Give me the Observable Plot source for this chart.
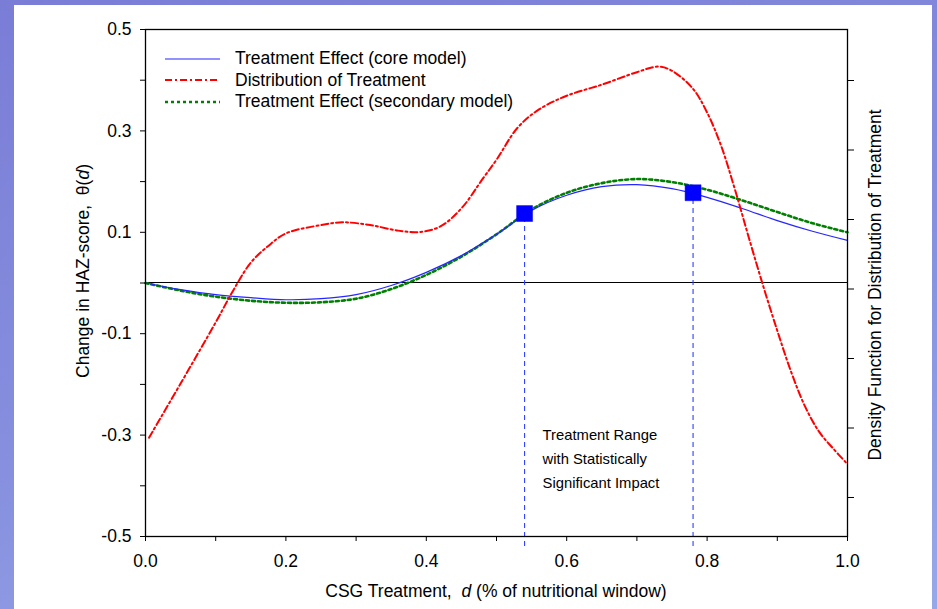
<!DOCTYPE html>
<html><head><meta charset="utf-8">
<script src="https://cdn.jsdelivr.net/npm/d3@7"></script>
<script src="https://cdn.jsdelivr.net/npm/@observablehq/plot@0.6"></script>
<style>
html,body{margin:0;padding:0;}
body{width:937px;height:609px;overflow:hidden;position:relative;background:linear-gradient(165deg,#7a7dd6 0%,#8690de 55%,#97a8e8 100%);font-family:"Liberation Sans",Arial,sans-serif;color:#000;}
#panel{position:absolute;left:14px;top:5px;width:918px;height:604px;background:#fff;}
.layer{position:absolute;left:0;top:0;}
.lbl{position:absolute;white-space:nowrap;font-size:17.5px;line-height:1;}
.rot{transform:translate(-50%,-50%) rotate(-90deg);}
#legend{position:absolute;left:163px;top:48px;font-size:17.5px;}
#legend .row{display:flex;align-items:center;height:21.5px;}
#legend svg{width:60px;height:10px;margin-right:12px;}
</style></head><body>
<div id="panel"></div>
<div id="plots"></div>
<div class="lbl rot" style="left:84px;top:271px;">Change in HAZ-score,&nbsp; θ(<i>d</i>)</div>
<div class="lbl rot" style="left:876px;top:285px;">Density Function for Distribution of Treatment</div>
<div class="lbl" style="left:496px;top:592px;transform:translate(-50%,-50%);">CSG Treatment,&nbsp; <i>d</i> (% of nutritional window)</div>
<div id="legend"></div>
<script>
// ---- data ----
const dValues = [0,0.05,0.1,0.15,0.2,0.25,0.3,0.35,0.4,0.45,0.5,0.55,0.6,0.65,0.7,0.75,0.8,0.85,0.9,0.95,1.0];
const coreEffect = [0,-0.013,-0.023,-0.029,-0.033,-0.031,-0.023,-0.005,0.021,0.054,0.096,0.143,0.173,0.19,0.194,0.186,0.169,0.147,0.123,0.102,0.084];
const secondaryEffect = [0,-0.015,-0.027,-0.035,-0.039,-0.038,-0.031,-0.012,0.016,0.052,0.096,0.145,0.178,0.197,0.205,0.199,0.184,0.163,0.140,0.118,0.100];
const densityX = [0.005,0.05,0.1,0.125,0.15,0.175,0.2,0.25,0.28,0.32,0.36,0.39,0.42,0.45,0.48,0.5,0.53,0.56,0.6,0.65,0.7,0.73,0.75,0.78,0.8,0.82,0.84,0.86,0.88,0.9,0.92,0.94,0.96,0.98,1.0];
const densityValues = [0.43,0.82,1.26,1.49,1.69,1.81,1.90,1.96,1.98,1.96,1.92,1.91,1.95,2.08,2.29,2.43,2.66,2.79,2.89,2.97,3.06,3.10,3.07,2.94,2.77,2.53,2.21,1.86,1.52,1.20,0.90,0.65,0.47,0.35,0.24];
const rangeBounds = [0.54, 0.78];
const rangeEffects = [0.137, 0.178];
const annotationLines = ["Treatment Range","with Statistically","Significant Impact"];
const xTicks = [0,0.1,0.2,0.3,0.4,0.5,0.6,0.7,0.8,0.9,1.0];
const xLabels = [0,0.2,0.4,0.6,0.8,1.0];
const yTicks = [-0.5,-0.4,-0.3,-0.2,-0.1,0,0.1,0.2,0.3,0.4,0.5];
const yLabels = [-0.5,-0.3,-0.1,0.1,0.3,0.5];
const densityTicks = [0,0.5,1,1.5,2,2.5,3];
const seriesNames = ["Treatment Effect (core model)","Distribution of Treatment","Treatment Effect (secondary model)"];

// ---- styles ----
const BLUE = "#2626ff", RED = "#ff0000", GREEN = "#008000";
const styles = [
  {stroke: BLUE, strokeWidth: 1.2, dash: null},
  {stroke: RED, strokeWidth: 2, dash: "7 3 2 3"},
  {stroke: GREEN, strokeWidth: 2.6, dash: "3 3"}
];
const W = 937, H = 609;
const M = {marginLeft: 145, marginRight: 90, marginTop: 29, marginBottom: 73};
const font = {fontSize: "17.5px", fontFamily: "Liberation Sans, Arial, sans-serif", background: "transparent", color: "#000"};

const core = dValues.map((d, i) => ({d, v: coreEffect[i]}));
const secondary = dValues.map((d, i) => ({d, v: secondaryEffect[i]}));
const density = densityX.map((d, i) => ({d, v: densityValues[i]}));
const range = rangeBounds.map((d, i) => ({d, v: rangeEffects[i]}));

const main = Plot.plot({
  width: W, height: H, ...M, style: font,
  x: {domain: [0, 1]},
  y: {domain: [-0.5, 0.5]},
  marks: [
    Plot.ruleY([0], {stroke: "#000", strokeWidth: 1, dy: -0.5}),
    Plot.ruleX(range, {x: "d", y1: -0.5, y2: "v", stroke: "#3040ff", strokeWidth: 1.1, strokeDasharray: "5 4", insetTop: 10}),
    Plot.line(secondary, {x: "d", y: "v", curve: "catmull-rom", stroke: styles[2].stroke, strokeWidth: styles[2].strokeWidth, strokeDasharray: styles[2].dash}),
    Plot.line(core, {x: "d", y: "v", curve: "catmull-rom", stroke: styles[0].stroke, strokeWidth: styles[0].strokeWidth}),
    Plot.dot(range, {x: "d", y: "v", symbol: "square", r: 9, fill: "#0000ff", stroke: "#0000ff", strokeWidth: 0.5}),
    Plot.text([annotationLines.join("\n")], {x: rangeBounds[0], y: -0.3, text: d => d, dx: 18, dy: -12, lineAnchor: "top", lineHeight: 1.62, textAnchor: "start", fontSize: 14.8, fill: "#000"}),
    Plot.axisX({ticks: xTicks, tickFormat: d => xLabels.includes(d) ? d.toFixed(1) : "", tickSize: 5, tickPadding: 13, label: null}),
    Plot.axisY({ticks: yTicks, tickFormat: d => yLabels.includes(d) ? d.toFixed(1) : "", tickSize: 5, tickPadding: 9, label: null}),
    Plot.frame({stroke: "#000", strokeWidth: 1.3})
  ]
});

const dens = Plot.plot({
  width: W, height: H, ...M, style: font,
  x: {domain: [0, 1], axis: null},
  y: {domain: [-0.2806, 3.367]},
  marks: [
    Plot.line(density, {x: "d", y: "v", curve: "catmull-rom", stroke: styles[1].stroke, strokeWidth: styles[1].strokeWidth, strokeDasharray: styles[1].dash}),
    Plot.axisY({anchor: "right", ticks: densityTicks, tickFormat: () => "", tickSize: 6, label: null})
  ]
});
main.classList.add("layer"); dens.classList.add("layer");
main.style.position = "absolute"; dens.style.position = "absolute";
const host = document.getElementById("plots");
host.appendChild(main); host.appendChild(dens);

// legend
const leg = d3.select("#legend");
seriesNames.forEach((name, i) => {
  const row = leg.append("div").attr("class", "row");
  const s = row.append("svg").attr("viewBox", "0 0 60 10");
  s.append("line").attr("x1", 2).attr("x2", 57).attr("y1", 5).attr("y2", 5)
    .attr("stroke", styles[i].stroke).attr("stroke-width", styles[i].strokeWidth)
    .attr("stroke-dasharray", styles[i].dash);
  row.append("span").text(name);
});
</script>
</body></html>
